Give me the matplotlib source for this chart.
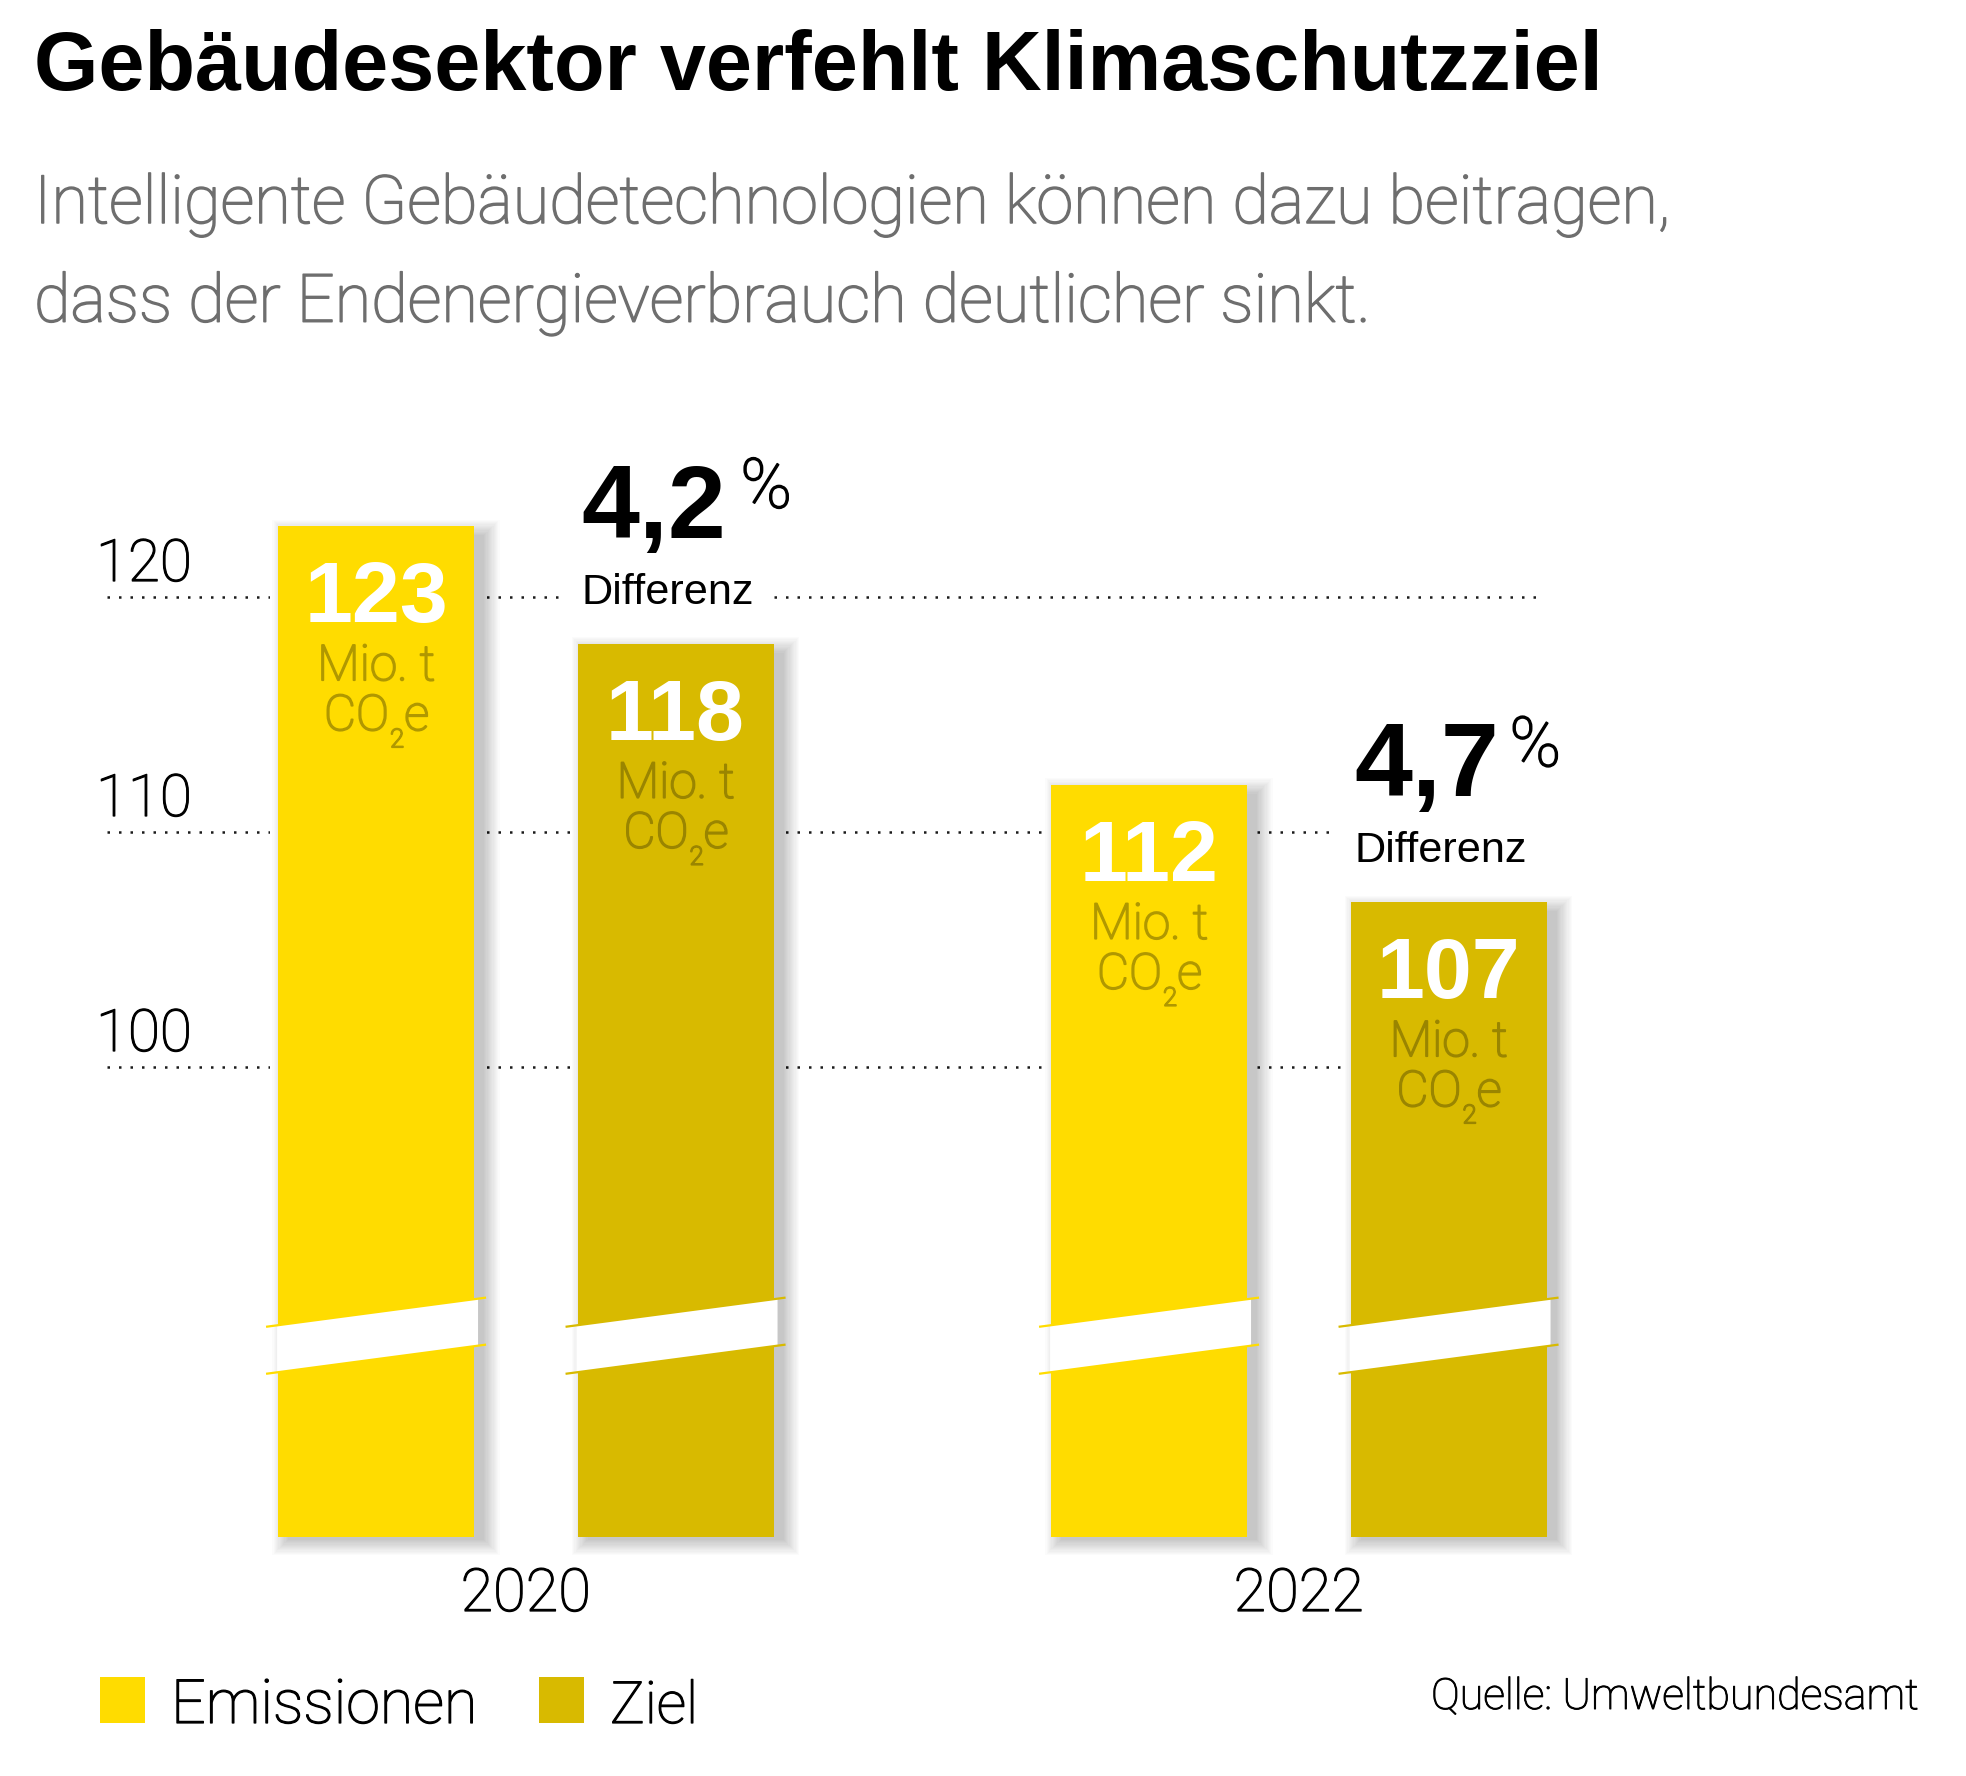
import matplotlib
matplotlib.use("Agg")
import matplotlib.pyplot as plt
import matplotlib.patheffects as pe
from matplotlib.patches import Rectangle, Polygon
import numpy as np

# ---------------- data ----------------
years = ["2020", "2022"]
series = ["Emissionen", "Ziel"]
emissionen = [123, 112]
ziel = [118, 107]
differenz = ["4,2", "4,7"]
yticks = [100, 110, 120]
unit_line1 = "Mio. t"
unit_co, unit_sub, unit_e = "CO", "2", "e"
title = "Gebäudesektor verfehlt Klimaschutzziel"
subtitle = ["Intelligente Gebäudetechnologien können dazu beitragen,",
            "dass der Endenergieverbrauch deutlicher sinkt."]
source = "Quelle: Umweltbundesamt"
diff_label = "Differenz"

# ---------------- style ----------------
C_EM = "#FFDC00"
C_ZI = "#D8BA00"
C_UNIT_EM = "#B09800"
C_UNIT_ZI = "#9A8500"
C_SUB = "#6E6E6E"
BOLD = ["Liberation Sans", "DejaVu Sans"]
LIGHT = ["Roboto", "DejaVu Sans"]
REG = ["Liberation Sans", "DejaVu Sans"]

W, H = 1966, 1776
fig = plt.figure(figsize=(W / 100, H / 100), dpi=100)
fig.patch.set_facecolor("white")
rend = fig.canvas.get_renderer()

# axes over whole figure; pixel mapping px = X0 + SX*x ; py = Y100 - SY*(v-100)
X0, SX = 525.8, 773.0
Y100, SY = 1066.7, 23.5
ax = fig.add_axes([0, 0, 1, 1])
ax.set_xlim(-X0 / SX, (W - X0) / SX)
ax.set_ylim(100 - (H - Y100) / SY, 100 + Y100 / SY)
ax.axis("off")


def dx(px):
    return px / SX


def dy(px):
    return px / SY


def fx(px):
    return px / W


def fy(py):
    return 1 - py / H


def fit(t, target_px):
    w = t.get_window_extent(renderer=rend).width
    t.set_fontsize(t.get_fontsize() * target_px / w)
    return t


def width_data(t):
    bb = t.get_window_extent(renderer=rend)
    return bb.width / SX


def thicken(t, lw=1.0):
    t.set_path_effects([pe.withStroke(linewidth=lw, foreground=t.get_color())])
    return t


BASE = 80.0
OFF = dx(149.75)
BW = dx(196)
x = np.arange(len(years))
xe = x - OFF
xz = x + OFF

# gridlines
ax.hlines(yticks, dx(107 - X0), dx(1542 - X0), colors="#1a1a1a",
          linestyles=(0, (1, 3.6)), linewidth=1.8, zorder=1)
for v in yticks:
    t = ax.text(dx(96 - X0), v + dy(15.7), str(v), fontsize=44, family=LIGHT,
                fontweight="light", ha="left", va="baseline", color="#000000",
                zorder=2)
    fit(t, 96)
    thicken(t, 0.9)


# bars with halo and shadow
def draw_bar(xc, val, color):
    left = xc - BW / 2
    # white halo cutting the gridlines
    ax.add_patch(Rectangle((left - dx(8), BASE), BW + dx(16), val - BASE,
                           facecolor="white", edgecolor="none", zorder=2))
    # soft blurred shadow (offset right / slightly down)
    n = 14
    for k in range(n):
        r = k * 1.2
        ax.add_patch(Rectangle((left + dx(10 - r), BASE - dy(3 + r)),
                               BW + dx(2 * r), val - BASE - dy(6) + dy(2 * r),
                               facecolor="black", edgecolor="none",
                               alpha=0.016, zorder=2.5))
    ax.bar([xc], [val - BASE], bottom=BASE, width=BW, color=color, zorder=3,
           linewidth=0)
    # axis-break band
    lo_l = 87.0
    gap = 2.0
    slope = dy(26) / BW
    ext = dx(12)
    xl, xr = left, left + BW

    def yl(xx, b):
        return b + slope * (xx - xl)

    ax.add_patch(Polygon([(xl - dx(1), yl(xl - dx(1), lo_l)),
                          (xr + dx(4), yl(xr + dx(4), lo_l)),
                          (xr + dx(4), yl(xr + dx(4), lo_l + gap)),
                          (xl - dx(1), yl(xl - dx(1), lo_l + gap))],
                         closed=True, facecolor="white", edgecolor="none", zorder=4))
    for b in (lo_l, lo_l + gap):
        ax.plot([xl - ext, xr + ext], [yl(xl - ext, b), yl(xr + ext, b)],
                color=color, linewidth=1.6, solid_capstyle="butt", zorder=5)


for i in range(len(years)):
    draw_bar(xe[i], emissionen[i], C_EM)
    draw_bar(xz[i], ziel[i], C_ZI)


# value labels inside bars
def bar_label(xc, val, ucol):
    ax.text(xc, val - dy(96), str(val), fontsize=62, family=BOLD,
            fontweight="bold", color="white", ha="center", va="baseline", zorder=6)
    t1 = ax.text(xc, val - dy(154), unit_line1, fontsize=35, family=LIGHT,
                 fontweight="light", color=ucol, ha="center", va="baseline", zorder=6)
    fit(t1, 118)
    thicken(t1, 1.3)
    fs = t1.get_fontsize()
    yb = val - dy(204)
    a = ax.text(0, yb, unit_co, fontsize=fs, family=LIGHT, fontweight="light",
                color=ucol, ha="left", va="baseline", zorder=6)
    s = ax.text(0, yb - dy(17), unit_sub, fontsize=fs * 0.52, family=LIGHT,
                fontweight="light", color=ucol, ha="left", va="baseline", zorder=6)
    e = ax.text(0, yb, unit_e, fontsize=fs, family=LIGHT, fontweight="light",
                color=ucol, ha="left", va="baseline", zorder=6)
    for tt in (a, s, e):
        thicken(tt, 1.3)
    wa, ws, we = width_data(a), width_data(s), width_data(e)
    x0 = xc - (wa + ws + we) / 2
    a.set_x(x0)
    s.set_x(x0 + wa + dx(1))
    e.set_x(x0 + wa + ws + dx(1))


for i in range(len(years)):
    bar_label(xe[i], emissionen[i], C_UNIT_EM)
    bar_label(xz[i], ziel[i], C_UNIT_ZI)

# difference annotations
pct_gap = [14, 10]
for i in range(len(years)):
    left = xz[i] - BW / 2 + dx(4)
    t = ax.text(left, ziel[i] + dy(106), differenz[i], fontsize=75, family=BOLD,
                fontweight="bold", color="black", ha="left", va="baseline", zorder=6)
    xr_data = left + width_data(t)
    p = ax.text(xr_data + dx(pct_gap[i]), ziel[i] + dy(106 + 30), "%", fontsize=50,
                family=LIGHT, fontweight="light", color="black", ha="left",
                va="baseline", zorder=6)
    thicken(p, 1.1)
    d = ax.text(left, ziel[i] + dy(40), diff_label, fontsize=31, family=REG,
                color="black", ha="left", va="baseline", zorder=6,
                bbox=dict(facecolor="white", edgecolor="none", pad=14))
    fit(d, 172)

# year labels
for i, yr in enumerate(years):
    t = ax.text(x[i], 100 - dy(1611 - Y100), yr, fontsize=44.5, family=LIGHT,
                fontweight="light", color="black", ha="center", va="baseline",
                zorder=6)
    fit(t, 130)
    thicken(t, 0.9)

# title / subtitle
t = fig.text(fx(34), fy(90), title, fontsize=58, family=BOLD, fontweight="bold",
             color="black", ha="left", va="baseline")
fit(t, 1567)
for line, yb, wpx in zip(subtitle, [223, 321.7], [1636, 1336]):
    t = fig.text(fx(34), fy(yb), line, fontsize=46, family=LIGHT,
                 fontweight="light", color=C_SUB, ha="left", va="baseline")
    fit(t, wpx)
    thicken(t, 1.1)

# legend
leg_x = [100, 539]
leg_w = [306, 88]
for i, (name, col) in enumerate(zip(series, [C_EM, C_ZI])):
    fig.patches.append(Rectangle((fx(leg_x[i]), fy(1723)), fx(45), 46 / H,
                                 transform=fig.transFigure, facecolor=col,
                                 edgecolor="none"))
    t = fig.text(fx(leg_x[i] + 71), fy(1723), name, fontsize=46, family=LIGHT,
                 fontweight="light", color="black", ha="left", va="baseline")
    fit(t, leg_w[i])
    thicken(t, 0.9)

t = fig.text(fx(1918), fy(1709), source, fontsize=32, family=LIGHT,
             fontweight="light", color="black", ha="right", va="baseline")
fit(t, 488)
thicken(t, 0.7)

fig.savefig("out.png", dpi=100, facecolor="white")
